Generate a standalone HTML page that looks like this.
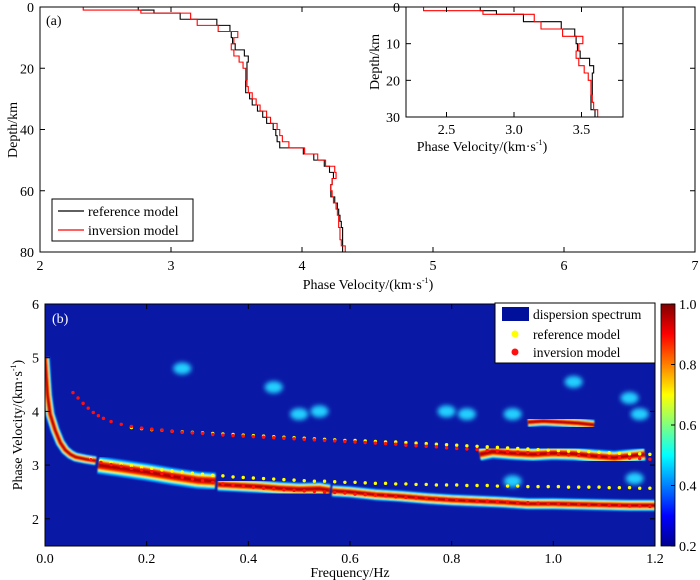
<!DOCTYPE html>
<html><head><meta charset="utf-8">
<style>
body{margin:0;background:#fff;}
svg{display:block;font-family:"Liberation Serif",serif;}
</style></head>
<body>
<svg id="fig" width="700" height="580" viewBox="0 0 700 580" xmlns="http://www.w3.org/2000/svg">
<defs>
<clipPath id="clipTop"><rect x="40" y="7" width="655" height="245"/></clipPath>
<clipPath id="clipIn"><rect x="406" y="7" width="217" height="110"/></clipPath>
<clipPath id="clipBot"><rect x="45" y="304" width="610" height="242"/></clipPath>
<filter id="blur" x="-10%" y="-50%" width="120%" height="200%"><feGaussianBlur stdDeviation="0.9"/></filter>
<filter id="blur2" x="-20%" y="-50%" width="140%" height="200%"><feGaussianBlur stdDeviation="2.5"/></filter>
<linearGradient id="jet" x1="0" y1="1" x2="0" y2="0">
<stop offset="0" stop-color="#00008f"/><stop offset="0.125" stop-color="#0000ff"/>
<stop offset="0.375" stop-color="#00ffff"/><stop offset="0.625" stop-color="#ffff00"/>
<stop offset="0.875" stop-color="#ff0000"/><stop offset="1" stop-color="#800000"/>
</linearGradient>
</defs>
<g id="top"></g>
<g id="inset"></g>
<g id="bottom"></g>
</svg>
<script>
// ---- Panel (a) data ----
const layerTops = [0,1,2,4,6,8,10,12,14,16,18,20,22,24,26,28,30,32,34,36,38,40,42,44,46,48,50,52,54,56,58,60,62,64,66,68,70,72,74,76,78];
const refVel = [2.75,2.87,3.07,3.35,3.45,3.46,3.47,3.49,3.56,3.59,3.58,3.58,3.58,3.57,3.57,3.60,3.62,3.66,3.70,3.73,3.78,3.80,3.81,3.83,4.01,4.09,4.17,4.21,4.24,4.23,4.22,4.22,4.25,4.27,4.28,4.29,4.30,4.31,4.31,4.31,4.31];
const invVel = [2.33,2.77,3.15,3.20,3.36,3.51,3.48,3.46,3.48,3.52,3.55,3.57,3.57,3.58,3.59,3.62,3.65,3.68,3.73,3.76,3.81,3.83,3.85,3.90,4.02,4.12,4.18,4.25,4.26,4.23,4.22,4.23,4.24,4.26,4.27,4.28,4.28,4.29,4.29,4.30,4.33];
const topXTicks = [2,3,4,5,6,7];
const topYTicks = [0,20,40,60,80];
const inXTicks = [2.5,3.0,3.5];
const inYTicks = [0,10,20,30];
// ---- Panel (b) data ----
const bFreqTicks = [0.0,0.2,0.4,0.6,0.8,1.0,1.2];
const bVelTicks = [2,3,4,5,6];
const cbTicks = [0.2,0.4,0.6,0.8,1.0];
const refFundF = [0.09,0.11,0.13,0.15,0.17,0.19,0.21,0.23,0.25,0.27,0.29,0.31,0.33,0.35,0.37,0.39,0.41,0.43,0.45,0.47,0.49,0.51,0.53,0.55,0.57,0.59,0.61,0.63,0.65,0.67,0.69,0.71,0.73,0.75,0.77,0.79,0.81,0.83,0.85,0.87,0.89,0.91,0.93,0.95,0.97,0.99,1.01,1.03,1.05,1.07,1.09,1.11,1.13,1.15,1.17,1.19];
const refFundV = [3.12,3.08,3.05,3.02,2.99,2.96,2.94,2.91,2.89,2.87,2.85,2.83,2.81,2.80,2.78,2.77,2.76,2.75,2.74,2.73,2.72,2.71,2.70,2.70,2.69,2.68,2.68,2.67,2.66,2.66,2.65,2.65,2.64,2.64,2.63,2.63,2.63,2.62,2.62,2.62,2.61,2.61,2.61,2.60,2.60,2.60,2.60,2.59,2.59,2.59,2.59,2.58,2.58,2.58,2.57,2.57];
const invFundF = refFundF;
const invFundV = [3.10,3.05,3.01,2.98,2.94,2.91,2.88,2.84,2.81,2.77,2.74,2.71,2.68,2.65,2.63,2.61,2.59,2.57,2.56,2.54,2.53,2.52,2.51,2.50,2.49,2.48,2.46,2.45,2.44,2.43,2.41,2.40,2.39,2.38,2.37,2.36,2.35,2.34,2.33,2.33,2.32,2.31,2.30,2.30,2.29,2.28,2.28,2.27,2.27,2.26,2.26,2.25,2.25,2.24,2.24,2.23];
const refHighF = [0.17,0.19,0.21,0.23,0.25,0.27,0.29,0.31,0.33,0.35,0.37,0.39,0.41,0.43,0.45,0.47,0.49,0.51,0.53,0.55,0.57,0.59,0.61,0.63,0.65,0.67,0.69,0.71,0.73,0.75,0.77,0.79,0.81,0.83,0.85,0.87,0.89,0.91,0.93,0.95,0.97,0.99,1.01,1.03,1.05,1.07,1.09,1.11,1.13,1.15,1.17,1.19];
const refHighV = [3.70,3.68,3.66,3.65,3.63,3.62,3.61,3.60,3.59,3.58,3.57,3.56,3.55,3.54,3.53,3.52,3.51,3.50,3.49,3.48,3.47,3.46,3.46,3.45,3.44,3.43,3.43,3.42,3.41,3.40,3.39,3.38,3.37,3.36,3.35,3.34,3.33,3.32,3.31,3.30,3.29,3.28,3.27,3.26,3.26,3.25,3.24,3.23,3.22,3.21,3.21,3.20];
const invHighF = [0.055,0.065,0.075,0.085,0.095,0.105,0.115,0.13,0.15,0.17,0.19,0.21,0.23,0.25,0.27,0.29,0.31,0.33,0.35,0.37,0.39,0.41,0.43,0.45,0.47,0.49,0.51,0.53,0.55,0.57,0.59,0.61,0.63,0.65,0.67,0.69,0.71,0.73,0.75,0.77,0.79,0.81,0.83,0.85,0.87,0.89,0.91,0.93,0.95,0.97,0.99,1.01,1.03,1.05,1.07,1.09,1.11,1.13,1.15,1.17,1.19];
const invHighV = [4.35,4.25,4.15,4.06,3.98,3.92,3.87,3.81,3.76,3.72,3.69,3.67,3.65,3.63,3.61,3.60,3.59,3.57,3.56,3.55,3.54,3.53,3.52,3.51,3.50,3.49,3.48,3.47,3.46,3.45,3.44,3.43,3.42,3.41,3.40,3.39,3.37,3.36,3.35,3.34,3.32,3.31,3.30,3.29,3.27,3.26,3.25,3.24,3.23,3.22,3.21,3.20,3.19,3.18,3.17,3.16,3.15,3.14,3.13,3.12,3.11];
// energy ridges (freq, velocity)
const ridgeA_F = [0.0,0.005,0.01,0.02,0.03,0.04,0.05,0.06,0.08,0.10];
const ridgeA_V = [5.0,4.3,3.95,3.65,3.42,3.28,3.2,3.15,3.11,3.08];
const ridgeB_F = [0.105,0.12,0.15,0.2,0.25,0.3,0.335];
const ridgeB_V = [3.0,2.98,2.94,2.87,2.79,2.72,2.70];
const ridgeC_F = [0.34,0.38,0.42,0.46,0.5,0.54,0.56];
const ridgeC_V = [2.64,2.62,2.6,2.57,2.55,2.56,2.53];
const ridgeD_F = [0.565,0.6,0.65,0.7,0.75,0.8,0.85,0.9,0.95,1.0,1.05,1.1,1.15,1.2];
const ridgeD_V = [2.52,2.5,2.45,2.42,2.38,2.35,2.33,2.31,2.28,2.28,2.27,2.26,2.25,2.25];
const ridgeE_F = [0.855,0.88,0.92,0.96,1.0,1.04,1.08,1.12,1.16,1.18];
const ridgeE_V = [3.2,3.25,3.22,3.2,3.22,3.21,3.17,3.14,3.18,3.2];
const ridgeG_F = [0.95,0.98,1.02,1.05,1.08];
const ridgeG_V = [3.8,3.82,3.8,3.78,3.75];
const blobF = [0.27,0.45,0.5,0.54,0.79,0.83,0.92,1.04,1.15,1.17,0.92,1.16];
const blobV = [4.8,4.45,3.95,4.0,4.0,3.95,3.95,4.55,4.25,3.95,2.7,2.75];

const NS="http://www.w3.org/2000/svg";
function mk(parent,tag,attrs,text){const e=document.createElementNS(NS,tag);for(const k in attrs)e.setAttribute(k,attrs[k]);if(text!==undefined)e.textContent=text;parent.appendChild(e);return e;}

// ===== Panel (a) =====
const gT=document.getElementById('top');
const X=v=>40+(v-2)*131, Y=d=>7+d*3.0625;
function stepPath(sx,sy,vels,bottom){let d=`M${sx(vels[0])},${sy(0)}`;for(let i=0;i<vels.length;i++){const nb=i+1<layerTops.length?layerTops[i+1]:bottom;d+=` V${sy(nb)}`;if(i+1<vels.length)d+=` H${sx(vels[i+1])}`;}return d;}
let e=mk(gT,'path',{d:stepPath(X,Y,refVel,80),fill:'none',stroke:'#000','stroke-width':1.1,'clip-path':'url(#clipTop)'});

e=mk(gT,'path',{d:stepPath(X,Y,invVel,80),fill:'none',stroke:'#f00','stroke-width':1.1});

e=mk(gT,'rect',{x:40,y:7,width:655,height:245,fill:'none',stroke:'#000','stroke-width':1});

topXTicks.forEach(t=>{mk(gT,'line',{x1:X(t),x2:X(t),y1:252,y2:247,stroke:'#000'});mk(gT,'line',{x1:X(t),x2:X(t),y1:7,y2:12,stroke:'#000'});
 e=mk(gT,'text',{x:X(t),y:270,'text-anchor':'middle','font-size':14},String(t));});
topYTicks.forEach(t=>{mk(gT,'line',{x1:40,x2:45,y1:Y(t),y2:Y(t),stroke:'#000'});mk(gT,'line',{x1:695,x2:690,y1:Y(t),y2:Y(t),stroke:'#000'});
 e=mk(gT,'text',{x:34,y:Y(t)+5,'text-anchor':'end','font-size':14},String(t));});
e=mk(gT,'text',{x:368,y:289,'text-anchor':'middle','font-size':14},'Phase Velocity/(km·s');
mk(e,'tspan',{'font-size':8,dy:-6},'-1');mk(e,'tspan',{dy:6},')');
e=mk(gT,'text',{x:0,y:0,'text-anchor':'middle','font-size':14,transform:'translate(17,130) rotate(-90)'},'Depth/km');
e=mk(gT,'text',{x:46,y:25,'font-size':14},'(a)');
// legend
const lg=mk(gT,'g',{});
mk(lg,'rect',{x:52,y:199,width:141,height:42,fill:'#fff',stroke:'#000'});
mk(lg,'line',{x1:58,x2:84,y1:211,y2:211,stroke:'#000','stroke-width':1.2});
e=mk(lg,'text',{x:88,y:216,'font-size':14},'reference model');
mk(lg,'line',{x1:58,x2:84,y1:230,y2:230,stroke:'#f00','stroke-width':1.2});
e=mk(lg,'text',{x:88,y:235,'font-size':14},'inversion model');

// ===== Inset =====
const gI=document.getElementById('inset');
const Xi=v=>406+(v-2.2)*135, Yi=d=>7+d*3.667;
mk(gI,'rect',{x:406,y:7,width:217,height:110,fill:'#fff'});
e=mk(gI,'path',{d:stepPath(Xi,Yi,refVel,80),fill:'none',stroke:'#000','stroke-width':1.1,'clip-path':'url(#clipIn)'});

e=mk(gI,'path',{d:stepPath(Xi,Yi,invVel,80),fill:'none',stroke:'#f00','stroke-width':1.1,'clip-path':'url(#clipIn)'});

e=mk(gI,'rect',{x:406,y:7,width:217,height:110,fill:'none',stroke:'#000'});

inXTicks.forEach(t=>{mk(gI,'line',{x1:Xi(t),x2:Xi(t),y1:117,y2:112,stroke:'#000'});mk(gI,'line',{x1:Xi(t),x2:Xi(t),y1:7,y2:12,stroke:'#000'});
 e=mk(gI,'text',{x:Xi(t),y:134,'text-anchor':'middle','font-size':14},t.toFixed(1));});
inYTicks.forEach(t=>{mk(gI,'line',{x1:406,x2:411,y1:Yi(t),y2:Yi(t),stroke:'#000'});mk(gI,'line',{x1:623,x2:618,y1:Yi(t),y2:Yi(t),stroke:'#000'});
 e=mk(gI,'text',{x:400,y:Yi(t)+5,'text-anchor':'end','font-size':14},String(t));});
e=mk(gI,'text',{x:482,y:151,'text-anchor':'middle','font-size':14},'Phase Velocity/(km·s');
mk(e,'tspan',{'font-size':8,dy:-6},'-1');mk(e,'tspan',{dy:6},')');
e=mk(gI,'text',{x:0,y:0,'text-anchor':'middle','font-size':14,transform:'translate(379,62) rotate(-90)'},'Depth/km');

// ===== Panel (b) =====
const gB=document.getElementById('bottom');
const Xb=f=>45+f*508.3, Yb=v=>304+(6-v)*53.7;
e=mk(gB,'rect',{x:45,y:304,width:610,height:242,fill:'#0a18a6'});

const hm=mk(gB,'g',{'clip-path':'url(#clipBot)'});
function ridge(F,V,name,scale){const pts=F.map((f,i)=>`${Xb(f)},${Yb(V[i])}`).join(' ');const g=mk(hm,'g',{filter:'url(#blur)'});
 
 [['#0080ff',14],['#00e8ff',11.5],['#ffee00',9],['#ff2000',6.5],['#b00000',3]].forEach(([c,w])=>mk(g,'polyline',{points:pts,fill:'none',stroke:c,'stroke-width':w*scale,'stroke-linejoin':'round'}));}
ridge(ridgeA_F,ridgeA_V,'ridge-fundamental-low',0.7);
ridge(ridgeB_F,ridgeB_V,'ridge-fundamental-b',1.25);
ridge(ridgeC_F,ridgeC_V,'ridge-fundamental-c',0.95);
ridge(ridgeD_F,ridgeD_V,'ridge-fundamental-d',0.85);
ridge(ridgeE_F,ridgeE_V,'ridge-higher-mode',1.0);
ridge(ridgeG_F,ridgeG_V,'ridge-upper',0.75);
blobF.forEach((f,i)=>{e=mk(hm,'ellipse',{cx:Xb(f),cy:Yb(blobV[i]),rx:9,ry:6,fill:'#20d0ff',filter:'url(#blur2)'});
 });
function dots(F,V,col,name){F.forEach((f,i)=>{e=mk(gB,'circle',{cx:Xb(f),cy:Yb(V[i]),r:1.7,fill:col});
 });}
dots(refFundF,refFundV,'#ffff00','reference-fundamental-point');
dots(refHighF,refHighV,'#ffff00','reference-higher-point');
dots(invFundF,invFundV,'#ff1010','inversion-fundamental-point');
dots(invHighF,invHighV,'#ff1010','inversion-higher-point');
e=mk(gB,'rect',{x:45,y:304,width:610,height:242,fill:'none',stroke:'#000'});

bFreqTicks.forEach(t=>{mk(gB,'line',{x1:Xb(t),x2:Xb(t),y1:546,y2:541,stroke:'#000'});mk(gB,'line',{x1:Xb(t),x2:Xb(t),y1:304,y2:309,stroke:'#000'});
 e=mk(gB,'text',{x:Xb(t),y:563,'text-anchor':'middle','font-size':14},t.toFixed(1));});
bVelTicks.forEach(t=>{mk(gB,'line',{x1:45,x2:50,y1:Yb(t),y2:Yb(t),stroke:'#000'});mk(gB,'line',{x1:655,x2:650,y1:Yb(t),y2:Yb(t),stroke:'#000'});
 e=mk(gB,'text',{x:39,y:Yb(t)+5,'text-anchor':'end','font-size':14},String(t));});
e=mk(gB,'text',{x:350,y:577,'text-anchor':'middle','font-size':14},'Frequency/Hz');
e=mk(gB,'text',{x:0,y:0,'text-anchor':'middle','font-size':14,transform:'translate(22,425) rotate(-90)'},'Phase Velocity/(km·s');
mk(e,'tspan',{'font-size':8,dy:-6},'-1');mk(e,'tspan',{dy:6},')');
e=mk(gB,'text',{x:52,y:323,'font-size':14,fill:'#fff'},'(b)');
// legend b
const lb=mk(gB,'g',{});
mk(lb,'rect',{x:495,y:303,width:160,height:60,fill:'#fff',stroke:'#000'});
mk(lb,'rect',{x:502,y:307,width:27,height:14,fill:'#00109a'});
e=mk(lb,'text',{x:533,y:319,'font-size':13.5},'dispersion spectrum');
mk(lb,'circle',{cx:515,cy:334,r:3.5,fill:'#ffff00'});
e=mk(lb,'text',{x:533,y:339,'font-size':13.5},'reference model');
mk(lb,'circle',{cx:515,cy:352,r:3.5,fill:'#ff1010'});
e=mk(lb,'text',{x:533,y:357,'font-size':13.5},'inversion model');
// colorbar
const Ycb=c=>546-(c-0.2)/0.8*242;
e=mk(gB,'rect',{x:661,y:304,width:14,height:242,fill:'url(#jet)',stroke:'#000','stroke-width':0.8});

cbTicks.forEach(t=>{mk(gB,'line',{x1:675,x2:671,y1:Ycb(t),y2:Ycb(t),stroke:'#000'});
 e=mk(gB,'text',{x:679,y:Ycb(t)+5,'font-size':14},t.toFixed(1));});
</script>
</body></html>
